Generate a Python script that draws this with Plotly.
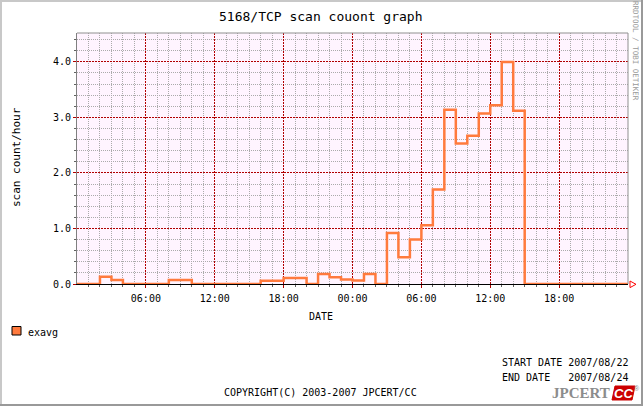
import plotly.graph_objects as go

# hourly averages, 2007/08/22 00:00 .. 2007/08/24 00:00
hours = [f"2007-08-{22 + h // 24:02d} {h % 24:02d}:00" for h in range(48)] + ["2007-08-24 00:00"]
exavg = [
    0, 0, 0.13, 0.07, 0, 0, 0, 0, 0.07, 0.07, 0, 0,
    0, 0, 0, 0, 0.06, 0.06, 0.11, 0.11, 0, 0.18, 0.12, 0.08,
    0.065, 0.18, 0, 0.92, 0.48, 0.80, 1.06, 1.70, 3.14, 2.53, 2.67, 3.07,
    3.22, 4.0, 3.12, 0, 0, 0, 0, 0, 0, 0, 0, 0,
]
exavg = exavg + [exavg[-1]]

tick_vals = ["2007-08-22 06:00", "2007-08-22 12:00", "2007-08-22 18:00", "2007-08-23 00:00",
             "2007-08-23 06:00", "2007-08-23 12:00", "2007-08-23 18:00"]
tick_text = ["06:00", "12:00", "18:00", "00:00", "06:00", "12:00", "18:00"]
y_ticks = [0, 1, 2, 3, 4]

# minor grid only where there is no major line
x_minor = [h for i, h in enumerate(hours) if i % 6 != 0]
y_minor = [round(k * 0.2, 1) for k in range(1, 23) if k % 5 != 0]

title = "5168/TCP scan couont graph"
y_label = "scan count/hour"
x_label = "DATE"
legend_label = "exavg"
start_date = "2007/08/22"
end_date = "2007/08/24"

W, H = 643, 406
L, R, T, B = 77, 15, 33, 122
PW, PH = W - L - R, H - T - B

ORANGE = "#FF7A3D"
MAJOR = "#B00000"
MINOR = "#ABABAB"
MONO = "DejaVu Sans Mono"


def px(x):
    return (x - L) / PW


def py(y):
    return (H - B - y) / PH


fig = go.Figure()
fig.add_trace(
    go.Scatter(
        x=hours,
        y=exavg,
        mode="lines",
        line=dict(color=ORANGE, width=2.5, shape="hv"),
        showlegend=False,
        hoverinfo="skip",
    )
)

axis_common = dict(
    showgrid=True,
    griddash="2px,1px",
    gridcolor=MAJOR,
    gridwidth=1,
    ticks="outside",
    tickcolor=MAJOR,
    ticklen=3,
    tickfont=dict(family=MONO, size=10, color="black"),
    zeroline=False,
    fixedrange=True,
)

fig.update_xaxes(
    type="date",
    range=["2007-08-22 00:00", "2007-08-24 00:00"],
    tickmode="array",
    tickvals=tick_vals,
    ticktext=tick_text,
    showline=True,
    linecolor="black",
    linewidth=1,
    ticklabelstandoff=2,
    minor=dict(tickmode="array", tickvals=x_minor, showgrid=True,
               gridcolor=MINOR, griddash="1px,1px", ticks="outside", ticklen=2, tickcolor="#606060"),
    **axis_common,
)
fig.update_yaxes(
    range=[0, 4.52],
    tickmode="array",
    tickvals=y_ticks,
    tickformat=".1f",
    showline=True,
    linecolor="#808080",
    linewidth=1,
    minor=dict(tickmode="array", tickvals=y_minor, showgrid=True, gridcolor=MINOR,
               griddash="1px,1px", ticks="outside", ticklen=2, tickcolor="#606060"),
    **axis_common,
)

shapes = [
    # outer 3d frame
    dict(type="line", x0=px(0), x1=px(W), y0=py(1), y1=py(1), line=dict(color="#C8C8C8", width=2)),
    dict(type="line", x0=px(1), x1=px(1), y0=py(0), y1=py(H), line=dict(color="#C8C8C8", width=2)),
    dict(type="line", x0=px(W - 1), x1=px(W - 1), y0=py(0), y1=py(H), line=dict(color="#999999", width=2)),
    dict(type="line", x0=px(0), x1=px(W), y0=py(H - 1), y1=py(H - 1), line=dict(color="#999999", width=2)),
    # plot border top / right
    dict(type="line", x0=0, x1=1, y0=1, y1=1, line=dict(color="#909090", width=1)),
    dict(type="line", x0=1, x1=1, y0=0, y1=1, line=dict(color="#909090", width=1)),
    # arrow at end of x axis
    dict(type="path",
         path=f"M {px(630)},{py(281)} L {px(636)},{py(284.3)} L {px(630)},{py(287.6)} Z",
         line=dict(color="red", width=1), fillcolor="white"),
    # legend swatch
    dict(type="rect", x0=px(12), x1=px(21), y0=py(335), y1=py(326.5),
         line=dict(color="black", width=1), fillcolor=ORANGE),
    # CC logo box
    dict(type="path",
         path=(f"M {px(615)},{py(386)} L {px(635)},{py(386)} "
               f"L {px(632)},{py(400)} L {px(612)},{py(400)} Z"),
         line=dict(color="#CC0000", width=1), fillcolor="#CC0000"),
]
for s in shapes:
    s.update(xref="paper", yref="paper", layer="above")


def note(text, x, y, size=10, xanchor="center", yanchor="middle", **kw):
    font = dict(family=kw.pop("family", MONO), size=size, color=kw.pop("color", "black"))
    return dict(text=text, x=px(x), y=py(y), xref="paper", yref="paper",
                xanchor=xanchor, yanchor=yanchor, showarrow=False, font=font, **kw)


annotations = [
    note(title, 321, 16, size=13),
    note(y_label, 16, 157, size=11, textangle=-90),
    note(x_label, 321, 317),
    note(legend_label, 26, 332, xanchor="left"),
    note(f"START DATE {start_date}", 630, 362, xanchor="right"),
    note(f"END DATE   {end_date}", 630, 377, xanchor="right"),
    note("COPYRIGHT(C) 2003-2007 JPCERT/CC", 320, 392),
    note("RRDTOOL / TOBI OETIKER", 636, 51, size=7.5, color="#999999", textangle=90),
    note("<b>JPCERT</b>", 612, 393, size=15, xanchor="right", family="Liberation Serif", color="#8C8C8C"),
    note("<b><i>CC</i></b>", 623.5, 393, size=13, family="Liberation Sans", color="white"),
    note("®", 637, 388, size=7, family="Liberation Sans", color="#8C8C8C"),
]

fig.update_layout(
    width=W,
    height=H,
    margin=dict(l=L, r=R, t=T, b=B, pad=0),
    paper_bgcolor="white",
    plot_bgcolor="#FFF4FF",
    showlegend=False,
    shapes=shapes,
    annotations=annotations,
    font=dict(family=MONO, size=10, color="black"),
)

fig.write_html(
    "out.html",
    config=dict(displayModeBar=False),
    post_script="document.body.style.margin='0';",
)
